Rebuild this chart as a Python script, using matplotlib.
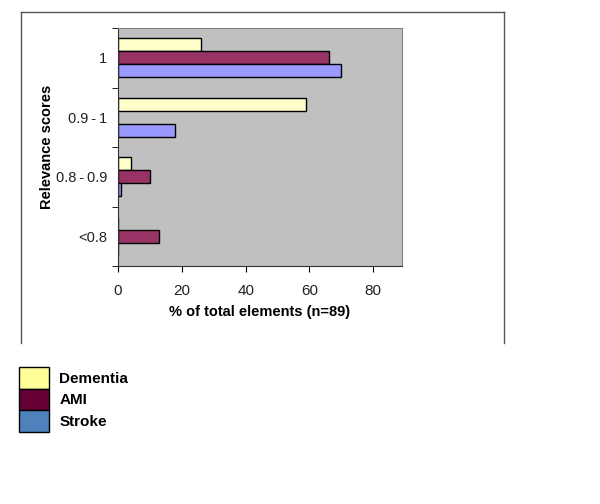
import numpy as np
import matplotlib.pyplot as plt
from matplotlib.lines import Line2D
from matplotlib.patches import Patch

plt.rcParams['font.family'] = ['Liberation Sans', 'DejaVu Sans']

# Данные
categories = ['1', '0.9\u2009-\u20091', '0.8\u2009-\u20090.9', '<0.8']
series = ['Dementia', 'AMI', 'Stroke']
dementia = [26, 59, 4, 0]
ami = [66, 0, 10, 13]
stroke = [70, 18, 1, 0]
bar_colors = ['#FFFFCC', '#993366', '#9999FF']
legend_colors = ['#FFFF99', '#660033', '#4F81BD']

fig = plt.figure(figsize=(6, 5.04), dpi=100)
ax = fig.add_axes([118/600, 1 - 266/504, (402 - 118)/600, (266 - 28)/504])
ax.set_facecolor('#C0C0C0')

# Категории сверху вниз
pos = np.arange(len(categories))
h = 0.22
for i, (vals, c) in enumerate(zip([dementia, ami, stroke], bar_colors)):
    ax.barh(pos + (i - 1) * h, vals, height=h, color=c,
            edgecolor='black', linewidth=1)

ax.set_ylim(len(categories) - 0.5, -0.5)
ax.set_xlim(0, 89)
ax.set_xticks([0, 20, 40, 60, 80])
ax.set_yticks(pos)
ax.set_yticklabels(categories)
ax.set_yticks(np.arange(-0.5, len(categories)), minor=True)
ax.tick_params(axis='y', which='major', length=0, pad=8, labelsize=10.5, labelcolor='#222222')
ax.tick_params(axis='y', which='minor', length=4, direction='out')
ax.tick_params(axis='x', length=4, direction='out', pad=9, labelsize=11, labelcolor='#222222')

for s in ['top', 'right']:
    ax.spines[s].set_color('#808080')
for s in ['left', 'bottom']:
    ax.spines[s].set_color('#333333')

ax.set_xlabel('% of total elements (n=89)', fontweight='bold', fontsize=10.5, labelpad=5)
ax.set_ylabel('Relevance scores', fontweight='bold', fontsize=10.5)
ax.yaxis.set_label_coords(-0.226, 0.5)

# Рамка диаграммы (без нижней линии)
W, H = 600, 504
frame = [((21, 343), (21, 12)), ((21, 12), (504, 12)), ((504, 12), (504, 343))]
for (x0, y0), (x1, y1) in frame:
    fig.add_artist(Line2D([x0/W, x1/W], [1 - y0/H, 1 - y1/H],
                          color='#555555', linewidth=1))

# Легенда
handles = [Patch(facecolor=c, edgecolor='black', linewidth=1) for c in legend_colors]
fig.legend(handles, series, loc='upper left', bbox_to_anchor=(19/600, 1 - 367/504),
           frameon=False, handlelength=1.95, handleheight=1.8, handletextpad=0.7,
           labelspacing=0.0, borderaxespad=0, borderpad=0,
           prop={'weight': 'bold', 'size': 11})

fig.savefig('out.png', dpi=100)
